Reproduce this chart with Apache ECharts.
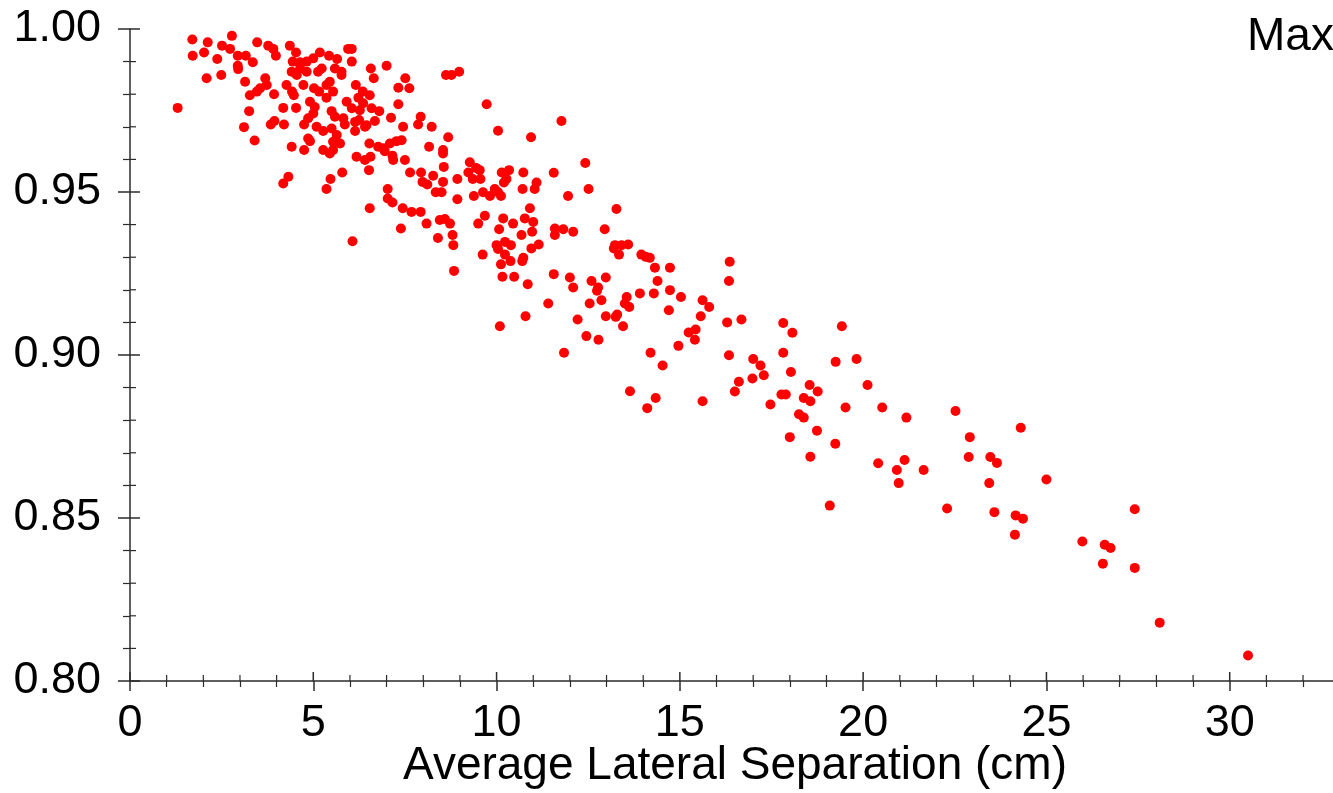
<!DOCTYPE html>
<html><head><meta charset="utf-8">
<script src="https://cdn.jsdelivr.net/npm/echarts@6/dist/echarts.min.js"></script>
<style>html,body{margin:0;padding:0;background:#fff}#c{width:1333px;height:793px}</style>
</head><body><div id="c"></div>
<script>
// [average lateral separation (cm), value]
const points = [
[1.70,0.9968],[2.12,0.9959],[2.78,0.9979],[1.71,0.9918],[2.02,0.9928],[2.51,0.9949],[2.73,0.9939],[2.38,0.9908],[2.94,0.9918],[3.16,0.9918],
[3.47,0.9959],[3.77,0.9949],[3.91,0.9939],[3.98,0.9918],[3.35,0.9898],[2.94,0.9887],[2.95,0.9877],[2.09,0.9849],[2.49,0.9859],[3.14,0.9838],
[3.69,0.9849],[3.55,0.9818],[3.73,0.9828],[3.46,0.9808],[3.27,0.9797],[3.93,0.9800],[1.30,0.9758],[3.25,0.9748],[3.11,0.9699],[3.40,0.9658],
[3.84,0.9707],[3.94,0.9718],[4.20,0.9707],[4.18,0.9758],[4.53,0.9758],[4.27,0.9828],[4.42,0.9808],[4.47,0.9797],[4.36,0.9949],[4.53,0.9928],
[4.44,0.9900],[4.64,0.9898],[4.82,0.9900],[5.00,0.9910],[5.18,0.9928],[5.43,0.9918],[5.65,0.9908],[5.95,0.9939],[4.41,0.9869],[4.55,0.9859],
[4.64,0.9879],[4.82,0.9869],[5.13,0.9869],[5.23,0.9879],[5.59,0.9879],[5.77,0.9869],[5.77,0.9859],[4.73,0.9828],[5.02,0.9818],[5.16,0.9808],
[5.36,0.9828],[5.45,0.9838],[5.54,0.9808],[5.36,0.9789],[4.91,0.9777],[5.04,0.9761],[5.00,0.9741],[4.86,0.9726],[4.75,0.9707],[5.09,0.9700],
[5.27,0.9687],[5.50,0.9748],[5.59,0.9731],[5.82,0.9726],[5.91,0.9777],[5.86,0.9707],[5.50,0.9695],[5.64,0.9675],[5.54,0.9654],[5.73,0.9649],
[4.86,0.9664],[4.91,0.9656],[4.41,0.9639],[4.75,0.9629],[5.27,0.9629],[5.45,0.9618],[5.54,0.9629],[4.32,0.9547],[4.18,0.9526],[5.47,0.9540],
[5.36,0.9509],[5.79,0.9560],
[6.05,0.9939],[6.05,0.9900],[6.57,0.9879],[7.00,0.9887],[6.65,0.9849],[7.51,0.9849],[7.32,0.9820],[7.62,0.9818],[6.16,0.9828],[6.35,0.9808],
[6.54,0.9797],[6.23,0.9789],[6.36,0.9772],[6.27,0.9751],[6.59,0.9757],[6.80,0.9748],[7.32,0.9769],[6.05,0.9757],[7.12,0.9728],[7.93,0.9731],
[7.86,0.9707],[8.23,0.9700],[7.45,0.9700],[6.14,0.9715],[6.25,0.9721],[6.45,0.9705],[6.68,0.9718],[6.14,0.9687],[6.41,0.9700],[8.68,0.9668],
[8.62,0.9859],[8.77,0.9859],[8.98,0.9869],[9.73,0.9769],[10.04,0.9688],[10.94,0.9668],[6.53,0.9649],[6.77,0.9639],[6.91,0.9634],[7.09,0.9649],
[7.27,0.9656],[7.41,0.9659],[6.95,0.9625],[7.16,0.9611],[7.18,0.9598],[7.50,0.9598],[8.16,0.9639],[8.54,0.9629],[8.54,0.9618],[6.18,0.9608],
[6.41,0.9598],[6.56,0.9608],[6.52,0.9567],[7.64,0.9560],[7.94,0.9560],[8.27,0.9550],[8.56,0.9577],[7.98,0.9531],[8.11,0.9523],[8.54,0.9531],
[8.93,0.9540],[9.27,0.9591],[9.44,0.9574],[9.54,0.9567],[9.23,0.9560],[9.35,0.9540],[9.56,0.9540],[10.14,0.9560],[10.34,0.9567],[10.73,0.9560],
[10.27,0.9540],[10.20,0.9529],[8.34,0.9499],[8.50,0.9499],[8.93,0.9478],[9.38,0.9488],[9.63,0.9499],[9.82,0.9488],[9.95,0.9509],[10.04,0.9499],
[10.12,0.9488],[10.71,0.9509],[11.09,0.9529],[11.04,0.9509],[7.03,0.9509],[7.03,0.9480],[7.16,0.9468],[6.54,0.9450],[7.44,0.9450],[7.68,0.9439],
[7.93,0.9439],[10.91,0.9450],[8.09,0.9403],[8.45,0.9414],[8.59,0.9417],[8.73,0.9403],[9.68,0.9427],[9.50,0.9403],[10.18,0.9419],[10.45,0.9403],
[10.77,0.9419],[11.00,0.9408],
[11.77,0.9718],[12.42,0.9589],[11.56,0.9559],[12.51,0.9509],[11.95,0.9488],[13.27,0.9448],
[6.07,0.9349],[7.39,0.9388],[8.40,0.9359],[8.80,0.9368],[8.82,0.9337],[8.84,0.9258],[10.07,0.9386],[10.68,0.9368],[10.97,0.9378],
[10.00,0.9337],[10.04,0.9325],[10.23,0.9347],[10.39,0.9337],[9.62,0.9308],[10.23,0.9308],[10.12,0.9278],[10.38,0.9288],[10.70,0.9288],[10.73,0.9298],
[10.95,0.9327],[11.15,0.9339],[10.16,0.9240],[10.48,0.9240],[10.85,0.9217],[10.79,0.9119],[10.09,0.9088],
[11.59,0.9388],[11.82,0.9386],[11.59,0.9368],[12.09,0.9378],[12.95,0.9386],[13.23,0.9337],[13.41,0.9337],[13.59,0.9339],[13.20,0.9327],[13.34,0.9308],
[13.95,0.9308],[14.07,0.9301],[14.18,0.9298],[14.32,0.9268],[14.73,0.9268],[11.56,0.9248],[12.00,0.9238],[12.09,0.9207],[12.59,0.9227],[12.77,0.9207],
[12.74,0.9197],[12.98,0.9238],[14.39,0.9227],[14.73,0.9199],[11.41,0.9158],[12.54,0.9158],[12.86,0.9168],[13.55,0.9178],[13.50,0.9158],[13.62,0.9147],
[13.91,0.9189],[14.29,0.9189],[15.03,0.9178],[15.62,0.9168],[15.80,0.9147],[14.70,0.9137],[12.21,0.9109],[12.98,0.9119],[13.29,0.9124],[13.25,0.9117],
[13.45,0.9088],[15.57,0.9119],[16.34,0.9227],[16.36,0.9286],[16.29,0.9100],[12.45,0.9058],[12.78,0.9047],[15.24,0.9069],[15.43,0.9078],[15.41,0.9047],
[11.84,0.9007],[14.20,0.9007],[14.96,0.9028],[14.53,0.8968],[16.34,0.8999],[13.64,0.8889],[14.34,0.8868],[14.11,0.8837],[15.62,0.8858],
[16.68,0.9109],[17.82,0.9098],[18.07,0.9068],[19.42,0.9088],[17.00,0.8988],[17.20,0.8968],[17.29,0.8938],[16.98,0.8928],[16.61,0.8918],[16.50,0.8888],
[17.82,0.9007],[18.03,0.8948],[19.25,0.8979],[19.82,0.8988],[18.54,0.8908],[18.76,0.8888],[20.12,0.8908],[17.77,0.8879],[17.89,0.8879],[18.38,0.8868],
[18.56,0.8858],[17.47,0.8848],[19.52,0.8839],[20.52,0.8839],[21.18,0.8808],[18.25,0.8818],[18.38,0.8808],[18.74,0.8768],[18.00,0.8748],[19.24,0.8728],
[18.56,0.8688],[20.41,0.8668],[21.13,0.8678],[20.92,0.8647],[21.65,0.8647],[20.97,0.8607],[19.09,0.8538],
[22.52,0.8828],[22.91,0.8748],[22.88,0.8687],[23.47,0.8687],[23.65,0.8669],[23.44,0.8607],[24.30,0.8777],[25.00,0.8618],[22.29,0.8529],[23.58,0.8518],
[24.16,0.8508],[24.36,0.8498],[24.14,0.8449],[25.98,0.8428],[26.59,0.8418],[26.75,0.8408],[26.54,0.8360],[27.41,0.8527],[27.41,0.8347],[28.09,0.8179],
[30.50,0.8078]
];
const xMin = 0, xMax = 35, xInterval = 5, xMinorStep = 1;
const yMin = 0.8, yMax = 1.0, yInterval = 0.05, yMinorStep = 0.01;
const xTitle = 'Average Lateral Separation (cm)';
const cornerText = 'Max';

const FONT = '"Liberation Sans", Arial, Helvetica, sans-serif';
const AX = '#2b2b2b';

// inward halves of the crossing ticks: [x, y, kind]  kind 0/1 = x major/minor, 2/3 = y major/minor
const innerTicks = [];
for (let i = 0; i <= Math.round((xMax - xMin) / xMinorStep); i++) {
  innerTicks.push([xMin + i * xMinorStep, yMin, i % 5 === 0 ? 0 : 1]);
}
for (let i = 0; i <= Math.round((yMax - yMin) / yMinorStep); i++) {
  innerTicks.push([xMin, +(yMin + i * yMinorStep).toFixed(4), i % 5 === 0 ? 2 : 3]);
}
const innerLen = [9, 6, 10, 6];

const chart = echarts.init(document.getElementById('c'), null, { renderer: 'canvas' });
chart.setOption({
  animation: false,
  backgroundColor: '#ffffff',
  grid: { left: 130, top: 29, width: 1283, bottom: 112, containLabel: false, outerBoundsMode: 'none' },
  xAxis: {
    type: 'value', min: xMin, max: xMax, interval: xInterval,
    axisLine: { show: true, onZero: false, lineStyle: { color: AX, width: 1.5 } },
    axisTick: { show: true, inside: false, length: 10, lineStyle: { color: AX, width: 1.5 } },
    minorTick: { show: true, splitNumber: 5, length: 6, lineStyle: { color: AX, width: 1.2 } },
    splitLine: { show: false }, minorSplitLine: { show: false },
    axisLabel: { show: true, margin: 20, color: '#000', fontSize: 45, fontFamily: FONT,
      formatter: v => (Math.abs(v / xInterval - Math.round(v / xInterval)) < 1e-6 && v < 34) ? String(v) : '' }
  },
  yAxis: {
    type: 'value', min: yMin, max: yMax, interval: yInterval,
    axisLine: { show: true, onZero: false, lineStyle: { color: AX, width: 1.5 } },
    axisTick: { show: true, inside: false, length: 12, lineStyle: { color: AX, width: 1.5 } },
    minorTick: { show: true, splitNumber: 5, length: 7, lineStyle: { color: AX, width: 1.2 } },
    splitLine: { show: false }, minorSplitLine: { show: false },
    axisLabel: { show: true, margin: 29, color: '#000', fontSize: 45, fontFamily: FONT,
      formatter: v => v.toFixed(2) }
  },
  series: [{
    type: 'custom', silent: true, clip: false, z: 1,
    encode: { x: 0, y: 1 },
    data: innerTicks,
    renderItem: function (params, api) {
      const k = api.value(2);
      const p = api.coord([api.value(0), api.value(1)]);
      const len = innerLen[k];
      const isX = k < 2;
      return {
        type: 'line',
        shape: { x1: p[0], y1: p[1], x2: isX ? p[0] : p[0] + len, y2: isX ? p[1] - len : p[1] },
        style: { stroke: AX, lineWidth: (k % 2 === 0) ? 1.5 : 1.2 }
      };
    }
  }, {
    type: 'scatter',
    data: points, symbol: 'circle', symbolSize: 10,
    itemStyle: { color: '#ff0000', opacity: 1 },
    emphasis: { disabled: true }, z: 3
  }],
  graphic: [
    { type: 'text', x: 735, y: 766, silent: true,
      style: { text: xTitle, fontSize: 46, fontFamily: FONT, fill: '#000',
        align: 'center', textAlign: 'center', verticalAlign: 'middle', textVerticalAlign: 'middle' } },
    { type: 'text', x: 1247, y: 37, silent: true,
      style: { text: cornerText, fontSize: 46, fontFamily: FONT, fill: '#000',
        align: 'left', textAlign: 'left', verticalAlign: 'middle', textVerticalAlign: 'middle' } }
  ]
});
</script>
</body></html>
